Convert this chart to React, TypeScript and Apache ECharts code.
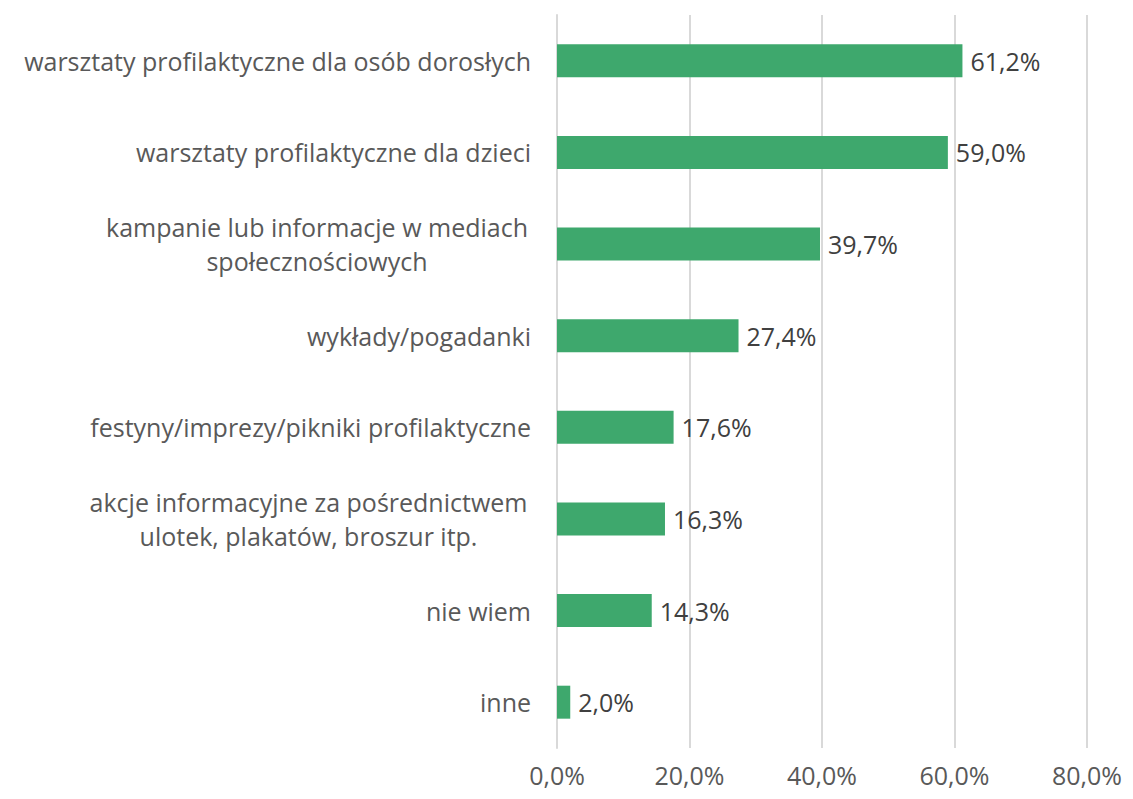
import React, { useEffect, useRef } from "react";
import * as echarts from "echarts";

const categories = [
  "warsztaty profilaktyczne dla osób dorosłych",
  "warsztaty profilaktyczne dla dzieci",
  "kampanie lub informacje w mediach\nspołecznościowych",
  "wykłady/pogadanki",
  "festyny/imprezy/pikniki profilaktyczne",
  "akcje informacyjne za pośrednictwem\nulotek, plakatów, broszur itp.",
  "nie wiem",
  "inne",
];
const values = [61.2, 59.0, 39.7, 27.4, 17.6, 16.3, 14.3, 2.0];
const xTicks = [0, 20, 40, 60, 80];

const FONT = "'Open Sans', sans-serif";
const FS = 25;

export default function App() {
  const ref = useRef<HTMLDivElement>(null);
  useEffect(() => {
    if (!ref.current) return;
    const chart = echarts.init(ref.current, undefined, { renderer: "svg" });
    const fmt = (v: number) => v.toFixed(1).replace(".", ",") + "%";
    chart.setOption({
      animation: false,
      backgroundColor: "#ffffff",
      grid: { left: 549, right: 29, top: 7, bottom: 43, containLabel: false },
      xAxis: {
        type: "value",
        min: xTicks[0],
        max: xTicks[xTicks.length - 1],
        interval: 20,
        axisLine: { show: false },
        axisTick: { show: false },
        splitLine: { show: true, lineStyle: { color: "#d9d9d9", width: 2 } },
        axisLabel: {
          color: "#595959",
          fontFamily: FONT,
          fontSize: FS,
          margin: 14,
          formatter: (v: number) => fmt(v),
        },
      },
      yAxis: {
        type: "category",
        inverse: true,
        data: categories,
        axisLine: { show: true, lineStyle: { color: "#d9d9d9", width: 2 } },
        axisTick: { show: false },
        axisLabel: {
          color: "#595959",
          fontFamily: FONT,
          fontSize: FS,
          margin: 26,
          lineHeight: 34,
          formatter: (v: string, idx: number) => {
            if (v.indexOf("\n") < 0) return v;
            const key = idx === 2 ? "a" : "b";
            return v
              .split("\n")
              .map((l) => "{" + key + "|" + l + "}")
              .join("\n");
          },
          rich: {
            a: {
              width: 428,
              align: "center",
              fontFamily: FONT,
              fontSize: FS,
              color: "#595959",
              lineHeight: 34,
            },
            b: {
              width: 445,
              align: "center",
              fontFamily: FONT,
              fontSize: FS,
              color: "#595959",
              lineHeight: 34,
            },
          },
        },
      },
      series: [
        {
          type: "bar",
          data: values,
          barWidth: "36%",
          itemStyle: { color: "#3ea86d" },
          label: {
            show: true,
            position: "right",
            distance: 8,
            color: "#404040",
            fontFamily: FONT,
            fontSize: FS,
            formatter: (p: any) => fmt(p.value),
          },
        },
      ],
    });
    return () => chart.dispose();
  }, []);
  return <div ref={ref} style={{ width: 1117, height: 783 }} />;
}
